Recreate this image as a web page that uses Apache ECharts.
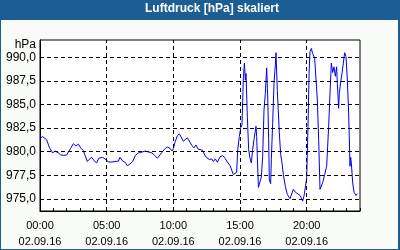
<!DOCTYPE html>
<html>
<head>
<meta charset="utf-8">
<script src="https://cdn.jsdelivr.net/npm/echarts@6/dist/echarts.min.js"></script>
<style>
html,body{margin:0;padding:0;background:#f9fcf9;}
#chart{width:400px;height:250px;}
</style>
</head>
<body>
<div id="chart"></div>
<script>
// ---- data ----
const hours = [0.0,0.2,0.3,0.5,0.7,0.95,1.12,1.25,1.38,1.55,1.75,2.0,2.12,2.3,2.5,2.7,2.88,3.05,3.25,3.38,3.55,3.7,3.88,4.05,4.25,4.4,4.55,4.7,4.8,4.95,5.12,5.38,5.62,5.88,6.0,6.2,6.4,6.55,6.75,6.95,7.15,7.38,7.55,7.7,7.88,8.05,8.2,8.4,8.6,8.8,8.95,9.15,9.35,9.55,9.75,9.9,10.0,10.12,10.3,10.45,10.6,10.75,10.9,11.05,11.2,11.4,11.55,11.7,11.85,12.0,12.2,12.35,12.5,12.7,12.88,13.0,13.15,13.3,13.5,13.7,13.88,14.05,14.25,14.38,14.5,14.62,14.75,14.83,14.95,15.05,15.15,15.25,15.33,15.4,15.45,15.55,15.65,15.75,15.85,15.95,16.05,16.15,16.2,16.25,16.3,16.38,16.5,16.6,16.7,16.8,16.9,17.0,17.08,17.15,17.2,17.3,17.35,17.45,17.55,17.65,17.7,17.8,17.95,18.05,18.15,18.25,18.4,18.55,18.75,18.9,19.0,19.15,19.3,19.5,19.6,19.7,19.8,19.9,20.0,20.1,20.18,20.25,20.35,20.45,20.6,20.7,20.8,20.9,21.0,21.1,21.2,21.35,21.5,21.65,21.75,21.85,21.95,22.05,22.15,22.25,22.3,22.4,22.45,22.55,22.65,22.75,22.85,22.95,23.05,23.15,23.25,23.3,23.35,23.45,23.55,23.7,23.8];
const pressure = [981.4,981.6,981.7,981.26,980.45,979.86,980.07,980.0,979.86,979.65,979.6,979.65,979.7,980.35,980.84,980.6,980.8,980.4,980.1,979.6,978.95,979.2,979.4,979.05,978.8,979.3,979.1,979.4,979.2,979.15,978.9,978.9,978.95,979.0,979.4,979.0,978.85,978.5,978.7,978.95,979.6,979.86,979.9,979.8,980.07,980.0,980.14,979.86,979.6,979.3,979.5,979.93,980.28,980.5,980.35,980.07,980.3,980.98,981.68,981.9,981.7,981.1,981.25,981.47,981.26,980.63,980.4,980.7,980.28,980.35,980.14,979.65,979.37,979.16,979.23,978.95,979.23,978.88,979.44,979.58,979.3,978.9,978.53,978.03,977.57,977.66,977.8,980.2,981.6,982.5,982.9,987.8,989.4,987.6,988.3,983.7,980.2,979.3,978.8,980.2,981.3,981.5,982.7,981.6,979.5,976.2,976.06,977.3,979.5,984.4,986.2,988.9,985.8,981.3,977.0,976.6,979.2,983.0,987.25,989.2,990.5,986.5,982.0,979.7,978.8,977.57,976.3,975.46,975.0,974.9,976.0,975.7,975.5,975.35,975.1,974.75,975.3,976.2,977.2,982.7,988.3,990.6,990.95,990.4,989.9,989.7,985.5,981.3,976.0,975.9,976.7,977.57,978.45,982.7,986.2,989.4,988.4,989.0,988.0,989.0,987.25,984.6,986.2,987.4,988.3,989.4,990.5,990.1,987.6,984.1,978.45,979.4,978.8,976.7,975.7,975.35,975.55];
const yTicks = [975, 977.5, 980, 982.5, 985, 987.5, 990];
const xLabelHours = [0, 5, 10, 15, 20];
const xGridHours = [5, 10, 15, 20];
const dateLabel = '02.09.16';
const titleText = 'Luftdruck [hPa] skaliert';
const unitText = 'hPa';

const seriesData = hours.map((h, i) => [h, pressure[i]]);
const dash = {color: '#000', width: 1, type: [4, 3]};
const FONT = 'Liberation Sans';

const chart = echarts.init(document.getElementById('chart'), null, {renderer: 'canvas'});
chart.setOption({
  animation: false,
  backgroundColor: '#f9fcf9',
  textStyle: {fontFamily: FONT},
  title: {
    text: titleText, left: 145, top: 3, padding: 0,
    textStyle: {color: '#fff', fontSize: 12, fontWeight: 'bold', fontFamily: FONT}
  },
  graphic: [
    {type: 'rect', left: 0, top: 0, shape: {width: 400, height: 20}, style: {fill: '#1b5e94'}, z: -1, silent: true},
    {type: 'rect', left: 0, top: 0, shape: {width: 1, height: 250}, style: {fill: '#1b5e94'}, z: 100, silent: true},
    {type: 'rect', left: 398, top: 0, shape: {width: 2, height: 250}, style: {fill: '#1b5e94'}, z: 100, silent: true},
    {type: 'rect', left: 0, top: 249, shape: {width: 400, height: 1}, style: {fill: '#1b5e94'}, z: 100, silent: true}
  ],
  grid: {left: 40, top: 40, width: 320, height: 172, show: true, borderColor: '#000', borderWidth: 1, backgroundColor: '#ffffff'},
  xAxis: {
    type: 'value', min: 0, max: 24, interval: 1,
    axisLine: {lineStyle: {color: '#000', width: 1}},
    axisTick: {inside: true, length: 3, lineStyle: {color: '#000'}},
    splitLine: {show: false},
    axisLabel: {
      color: '#000', fontSize: 11, fontFamily: FONT, margin: 7, lineHeight: 16,
      formatter: v => xLabelHours.indexOf(v) >= 0 ? String(v).padStart(2, '0') + ':00\n' + dateLabel : ''
    }
  },
  yAxis: {
    type: 'value', min: 973.7, max: 991.85,
    name: unitText, nameLocation: 'end', nameGap: -5,
    nameTextStyle: {color: '#000', fontSize: 12, fontFamily: FONT, align: 'right', verticalAlign: 'middle', padding: [0, 4, 0, 0]},
    axisLine: {show: true, lineStyle: {color: '#000'}},
    axisTick: {show: false},
    splitLine: {show: false},
    axisLabel: {
      color: '#000', fontSize: 12, fontFamily: FONT, margin: 4,
      customValues: yTicks,
      formatter: v => v.toFixed(1).replace('.', ',')
    }
  },
  series: [
    {
      type: 'line', data: [], z: 1, silent: true,
      markLine: {
        silent: true, symbol: ['none', 'none'], label: {show: false},
        lineStyle: dash, animation: false,
        data: yTicks.map(v => ({yAxis: v})).concat(xGridHours.map(h => ({xAxis: h})))
      }
    },
    {
      type: 'line', data: seriesData, z: 3, showSymbol: false, symbol: 'none',
      lineStyle: {color: '#0000ee', width: 1}
    }
  ]
});
</script>
</body>
</html>
